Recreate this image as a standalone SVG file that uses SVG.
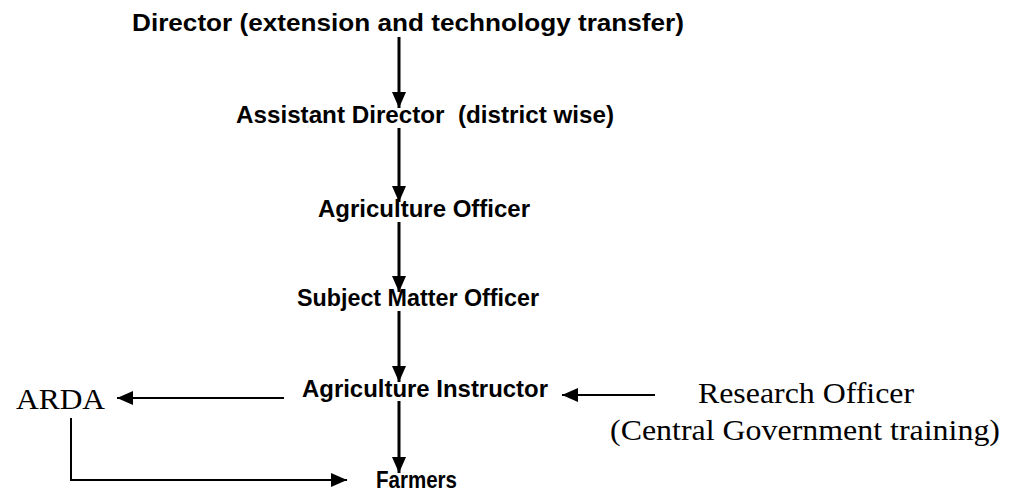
<svg xmlns="http://www.w3.org/2000/svg" width="1014" height="496" viewBox="0 0 1014 496">
<style>
.s{font-family:"Liberation Sans",Arial,sans-serif;font-size:24px;font-weight:bold;fill:#000;white-space:pre}
.r{font-family:"Liberation Serif","Times New Roman",serif;font-size:30px;fill:#000}
.c{stroke:#000;fill:none}
</style>
<defs>
<marker id="ah" markerWidth="16" markerHeight="14" refX="16" refY="7" orient="auto" markerUnits="userSpaceOnUse">
<path d="M0,0 L16,7 L0,14 Z" fill="#000"/>
</marker>
</defs>
<rect width="1014" height="496" fill="#fff"/>
<g id="connectors">
<line class="c" x1="399" y1="37" x2="399" y2="108" stroke-width="3" marker-end="url(#ah)"/>
<line class="c" x1="399" y1="128" x2="399" y2="202" stroke-width="3" marker-end="url(#ah)"/>
<line class="c" x1="399" y1="222" x2="399" y2="292" stroke-width="3" marker-end="url(#ah)"/>
<line class="c" x1="399" y1="311" x2="399" y2="382" stroke-width="3" marker-end="url(#ah)"/>
<line class="c" x1="399" y1="401" x2="399" y2="473" stroke-width="3" marker-end="url(#ah)"/>
<line class="c" x1="284" y1="398" x2="117" y2="398" stroke-width="2" marker-end="url(#ah)"/>
<line class="c" x1="655" y1="395" x2="562" y2="395" stroke-width="2" marker-end="url(#ah)"/>
<polyline class="c" points="71,418 71,480 347,480" stroke-width="2" marker-end="url(#ah)"/>
</g>
<g id="director"><text class="s" x="132" y="31" font-size="25" textLength="552" lengthAdjust="spacingAndGlyphs">Director (extension and technology transfer)</text></g>
<g id="assistant-director"><text class="s" x="236" y="123" textLength="378" lengthAdjust="spacingAndGlyphs">Assistant Director  (district wise)</text></g>
<g id="agriculture-officer"><text class="s" x="318" y="217" textLength="212" lengthAdjust="spacingAndGlyphs">Agriculture Officer</text></g>
<g id="subject-matter-officer"><text class="s" x="297" y="306" textLength="242" lengthAdjust="spacingAndGlyphs">Subject Matter Officer</text></g>
<g id="agriculture-instructor"><text class="s" x="302" y="397" textLength="246" lengthAdjust="spacingAndGlyphs">Agriculture Instructor</text></g>
<g id="farmers"><text class="s" x="376" y="488" textLength="81" lengthAdjust="spacingAndGlyphs">Farmers</text></g>
<g id="arda"><text class="r" x="16" y="409" textLength="89" lengthAdjust="spacingAndGlyphs">ARDA</text></g>
<g id="research-officer">
<text class="r" x="698" y="403" textLength="216" lengthAdjust="spacingAndGlyphs">Research Officer</text>
<text class="r" x="610" y="440" textLength="390" lengthAdjust="spacingAndGlyphs">(Central Government training)</text>
</g>
</svg>
